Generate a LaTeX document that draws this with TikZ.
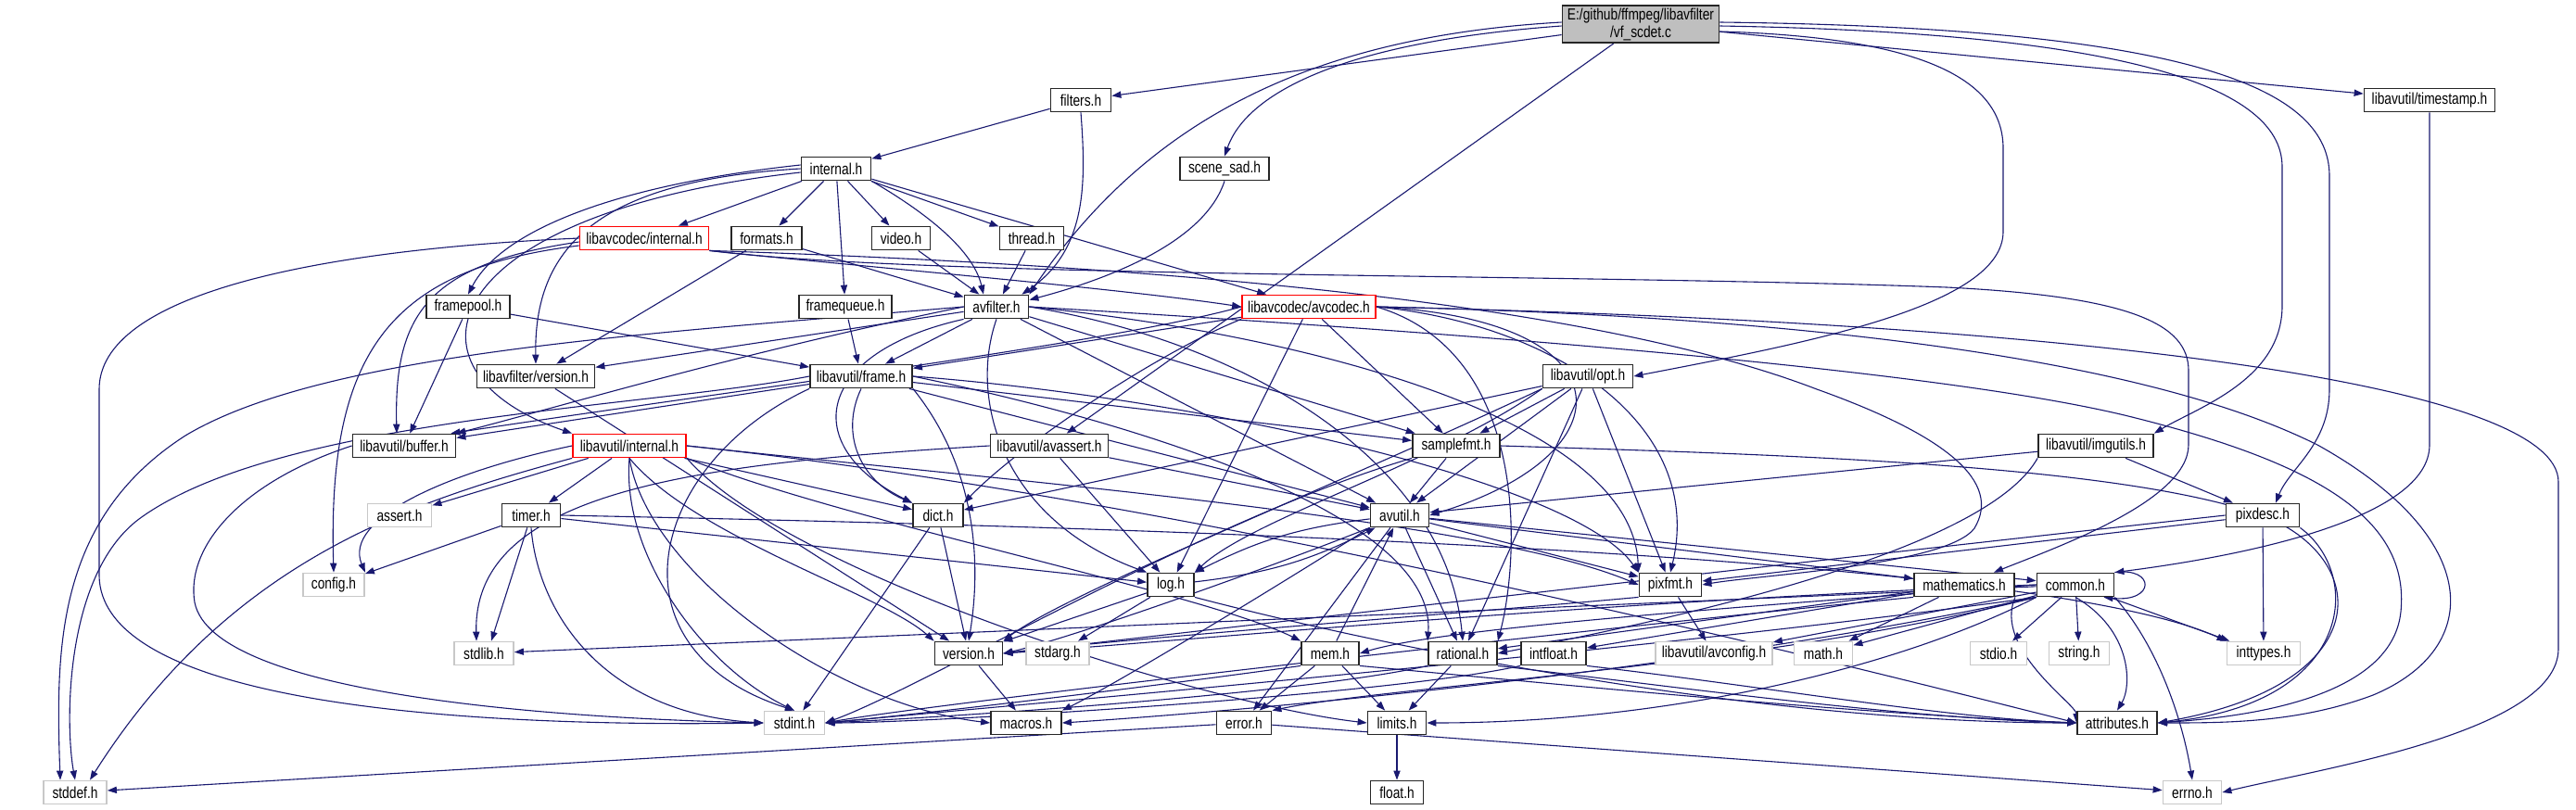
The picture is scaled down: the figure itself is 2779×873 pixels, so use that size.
\documentclass[tikz,border=0pt]{standalone}
\usepackage{fontspec}
\newfontfamily\nf[FakeStretch=0.8]{Liberation Sans}
\usetikzlibrary{arrows.meta}
\definecolor{mblue}{HTML}{191970}
\definecolor{vfgray}{HTML}{BFBFBF}
\definecolor{ggray}{HTML}{C8C8C8}
\pgfdeclarelayer{back}
\pgfdeclarelayer{edges}
\pgfsetlayers{back,edges,main}
\begin{document}
\begin{tikzpicture}[x=0.5pt,y=-0.5pt,
  nd/.style={draw=black!85, line width=0.9pt, fill=white, minimum height=12.5pt, inner sep=1pt, font=\nf\fontsize{8.6pt}{9.5pt}\selectfont},
  gnd/.style={nd, draw=ggray},
  rnd/.style={nd, draw=red},
  bw/.style={minimum width=#1*0.5pt},
  e/.style={draw=mblue, line width=0.55pt, -{Triangle[length=5pt,width=3.6pt]}}]
\begin{pgfonlayer}{back}
\fill[white] (0,0) rectangle (2779,873);
\end{pgfonlayer}
\useasboundingbox (0,0) rectangle (2779,873);
% nodes
\node[nd, fill=vfgray, bw=169, minimum height=20pt, align=center] (vfscdet) at (1770,26) {E:/github/ffmpeg/libavfilter\\/vf\_scdet.c};
\node[nd, bw=65] (filters) at (1166,108) {filters.h};
\node[nd, bw=141] (timestamp) at (2621,108) {libavutil/timestamp.h};
\node[nd, bw=96] (scenesad) at (1321,182) {scene\_sad.h};
\node[nd, bw=75] (internal) at (902,182) {internal.h};
\node[rnd, bw=139] (lcinternal) at (695,257) {libavcodec/internal.h};
\node[nd, bw=76] (formats) at (827,257) {formats.h};
\node[nd, bw=63] (video) at (972,257) {video.h};
\node[nd, bw=69] (thread) at (1113,257) {thread.h};
\node[nd, bw=90] (framepool) at (505,331) {framepool.h};
\node[nd, bw=100] (framequeue) at (912,331) {framequeue.h};
\node[nd, bw=69] (avfilter) at (1075,331) {avfilter.h};
\node[rnd, bw=144] (avcodec) at (1412,331) {libavcodec/avcodec.h};
\node[nd, bw=127] (lfversion) at (578,406) {libavfilter/version.h};
\node[nd, bw=110] (frame) at (929,406) {libavutil/frame.h};
\node[nd, bw=97] (opt) at (1713,406) {libavutil/opt.h};
\node[nd, bw=111] (buffer) at (436,481) {libavutil/buffer.h};
\node[rnd, bw=122] (luinternal) at (679,481) {libavutil/internal.h};
\node[nd, bw=127] (avassert) at (1132,481) {libavutil/avassert.h};
\node[nd, bw=94] (samplefmt) at (1571,481) {samplefmt.h};
\node[nd, bw=124] (imgutils) at (2261,481) {libavutil/imgutils.h};
\node[gnd, bw=69] (assert) at (431,556) {assert.h};
\node[nd, bw=63] (timer) at (573,556) {timer.h};
\node[nd, bw=54] (dict) at (1012,556) {dict.h};
\node[nd, bw=63] (avutil) at (1510,556) {avutil.h};
\node[nd, bw=79] (pixdesc) at (2441,556) {pixdesc.h};
\node[gnd, bw=66] (config) at (360,631) {config.h};
\node[nd, bw=50] (log) at (1263,631) {log.h};
\node[nd, bw=67] (pixfmt) at (1802,631) {pixfmt.h};
\node[nd, bw=108] (mathematics) at (2119,631) {mathematics.h};
\node[nd, bw=83] (common) at (2239,631) {common.h};
\node[gnd, bw=64] (stdlib) at (522,705) {stdlib.h};
\node[nd, bw=73] (version) at (1045,705) {version.h};
\node[gnd, bw=68] (stdarg) at (1141,705) {stdarg.h};
\node[nd, bw=62] (mem) at (1435,705) {mem.h};
\node[nd, bw=74] (rational) at (1578,705) {rational.h};
\node[nd, bw=70] (intfloat) at (1676,705) {intfloat.h};
\node[gnd, bw=126] (avconfig) at (1849,705) {libavutil/avconfig.h};
\node[gnd, bw=63] (mathh) at (1967,705) {math.h};
\node[gnd, bw=61] (stdio) at (2156,705) {stdio.h};
\node[gnd, bw=65] (string) at (2243,705) {string.h};
\node[gnd, bw=79] (inttypes) at (2442,705) {inttypes.h};
\node[gnd, bw=65] (stdint) at (857,780) {stdint.h};
\node[nd, bw=76] (macros) at (1107,780) {macros.h};
\node[nd, bw=59] (error) at (1342,780) {error.h};
\node[nd, bw=63] (limits) at (1507,780) {limits.h};
\node[nd, bw=86] (attributes) at (2284,780) {attributes.h};
\node[gnd, bw=68] (stddef) at (81,855) {stddef.h};
\node[nd, bw=57] (float) at (1507,855) {float.h};
\node[gnd, bw=63] (errno) at (2365,855) {errno.h};
\begin{pgfonlayer}{edges}
% vf_scdet.c
\draw[e] (vfscdet) -- (filters);
\draw[e] ([yshift=-1pt]vfscdet.west) .. controls (1450,45) and (1345,100) .. (scenesad.north);
\draw[e] ([yshift=1pt]vfscdet.west) .. controls (1400,40) and (1230,140) .. (avfilter.north east);
\draw[e] (vfscdet) -- (avassert);
\draw[e] (vfscdet) -- (timestamp);
\draw[e] ([yshift=-4pt]vfscdet.east) .. controls (2060,40) and (2161,80) .. (2161,160) -- (2161,250) .. controls (2161,330) and (1950,370) .. (opt.east);
\draw[e] ([yshift=-1pt]vfscdet.east) .. controls (2280,35) and (2462,90) .. (2462,180) -- (2462,330) .. controls (2462,410) and (2370,440) .. (imgutils.north east);
\draw[e] ([yshift=1pt]vfscdet.east) .. controls (2380,30) and (2513,100) .. (2513,190) -- (2513,420) .. controls (2513,480) and (2470,505) .. ([xshift=7pt]pixdesc.north);
% filters.h
\draw[e] (filters) -- (internal);
\draw[e] (filters.south) .. controls (1172,200) and (1172,270) .. ([xshift=-4pt]avfilter.north east);
% scene_sad.h
\draw[e] (scenesad.south) .. controls (1300,260) and (1200,300) .. ([yshift=-3pt]avfilter.north east);
% timestamp.h
\draw[e] (timestamp.south) -- (2621,480) .. controls (2621,560) and (2420,600) .. (common.north east);
% internal.h
\draw[e] (internal) -- (lcinternal);
\draw[e] (internal) -- (formats);
\draw[e] (internal) -- (video);
\draw[e] (internal) -- (thread);
\draw[e] (internal) -- (framequeue);
\draw[e] (internal.south east) .. controls (1000,230) and (1050,270) .. ([xshift=-7pt]avfilter.north);
\draw[e] (internal) -- (avcodec);
\draw[e] ([yshift=2pt]internal.west) .. controls (660,200) and (540,250) .. (framepool.north);
\draw[e] (internal.west) .. controls (640,195) and (576,270) .. (lfversion.north);
\draw[e] ([yshift=-2pt]internal.west) .. controls (470,230) and (420,400) .. (luinternal.north west);
% libavcodec/internal.h
\draw[e] (lcinternal.south east) .. controls (900,285) and (1200,310) .. (avcodec.west);
\draw[e] (lcinternal.west) .. controls (330,270) and (107,320) .. (107,420) -- (107,620) .. controls (107,760) and (500,785) .. (stdint.west);
\draw[e] ([yshift=-2pt]lcinternal.west) .. controls (460,285) and (425,340) .. ([xshift=-4pt]buffer.north);
\draw[e] ([yshift=-4pt]lcinternal.west) .. controls (420,290) and (353,380) .. (config.north);
\draw[e] (lcinternal.south east) .. controls (1000,300) and (1700,295) .. (2100,310) .. controls (2300,320) and (2361,350) .. (2361,400) -- (2361,480) .. controls (2361,540) and (2220,590) .. ([xshift=16pt]mathematics.north);
\draw[e] (lcinternal.south east) .. controls (1200,285) and (1700,320) .. (1960,420) .. controls (2100,470) and (2160,520) .. (2130,570) .. controls (2100,610) and (1900,620) .. (pixfmt.east);
% formats, video, thread, framepool, framequeue
\draw[e] (formats) -- (avfilter);
\draw[e] (formats) -- (lfversion);
\draw[e] (video) -- (avfilter);
\draw[e] (thread) -- (avfilter);
\draw[e] (framepool) -- (buffer);
\draw[e] (framepool) -- (frame);
\draw[e] (framequeue) -- (frame);
% avfilter.h
\draw[e] (avfilter) -- (lfversion);
\draw[e] (avfilter) -- (frame);
\draw[e] (avfilter.west) .. controls (800,380) and (600,440) .. (buffer.north east);
\draw[e] (avfilter.south west) .. controls (880,380) and (860,480) .. (dict.north west);
\draw[e] (avfilter.south) .. controls (1045,430) and (1080,560) .. (log.north west);
\draw[e] (avfilter) -- (avutil);
\draw[e] (avfilter) -- (samplefmt);
\draw[e] (avfilter.east) .. controls (1400,360) and (1760,450) .. (pixfmt.north west);
\draw[e] (avfilter.east) .. controls (1350,370) and (1560,500) .. (rational.north);
\draw[e] (avfilter.east) .. controls (1600,360) and (2100,400) .. (2300,450) .. controls (2500,500) and (2600,560) .. (2590,660) .. controls (2580,760) and (2400,775) .. (attributes.east);
\draw[e] (avfilter.west) .. controls (700,360) and (350,380) .. (200,470) .. controls (60,560) and (60,700) .. ([xshift=-8pt]stddef.north);
% avcodec.h
\draw[e] (avcodec) -- (frame);
\draw[e] (avcodec.west) .. controls (1200,370) and (800,420) .. ([xshift=-3pt]buffer.north east);
\draw[e] (avcodec.south west) .. controls (1250,380) and (1100,480) .. (dict.north east);
\draw[e] (avcodec) -- (log);
\draw[e] (avcodec) -- (samplefmt);
\draw[e] (avcodec.east) .. controls (1760,345) and (1760,490) .. (avutil.east);
\draw[e] (avcodec.east) .. controls (1680,350) and (1840,460) .. (pixfmt.north);
\draw[e] (avcodec.east) .. controls (1650,380) and (1640,600) .. (rational.north east);
\draw[e] (avcodec.east) .. controls (1900,340) and (2300,380) .. (2500,480) .. controls (2680,580) and (2680,700) .. (2560,750) .. controls (2480,780) and (2400,780) .. (attributes.east);
\draw[e] (avcodec.east) .. controls (2300,350) and (2760,420) .. (2760,520) -- (2760,700) .. controls (2760,790) and (2500,830) .. (errno.east);
% libavfilter/version.h
\draw[e] (lfversion) -- (version);
% frame.h
\draw[e] (frame) -- (buffer);
\draw[e] (frame.south) .. controls (905,470) and (930,520) .. (dict.north west);
\draw[e] (frame.west) .. controls (700,440) and (300,450) .. (150,560) .. controls (70,620) and (70,780) .. (stddef.north);
\draw[e] (frame.south west) .. controls (700,500) and (650,700) .. (stdint.north);
\draw[e] (frame) -- (avutil);
\draw[e] (frame.east) .. controls (1200,450) and (1550,550) .. (rational.north west);
\draw[e] (frame) -- (samplefmt);
\draw[e] (frame.east) .. controls (1300,430) and (1700,520) .. (pixfmt.north west);
\draw[e] (frame.south east) .. controls (1050,500) and (1060,600) .. (version.north);
% opt.h
\draw[e] (opt) -- (dict);
\draw[e] (opt) -- (avutil);
\draw[e] (opt.south west) .. controls (1550,500) and (1350,560) .. (log.north east);
\draw[e] (opt) -- (pixfmt);
\draw[e] (opt) -- (rational);
\draw[e] (opt) -- (samplefmt);
\draw[e] (opt.south west) .. controls (1450,520) and (1150,640) .. (version.north east);
% buffer.h
\draw[e] (buffer.west) .. controls (260,520) and (200,590) .. (210,650) .. controls (230,750) and (600,775) .. (stdint.west);
% libavutil/internal.h
\draw[e] (luinternal) -- (assert);
\draw[e] (luinternal) -- (timer);
\draw[e] (luinternal) -- (dict);
\draw[e] (luinternal.west) .. controls (480,510) and (370,560) .. (config.north east);
\draw[e] (luinternal.south west) .. controls (450,540) and (250,600) .. ([xshift=8pt]stddef.north);
\draw[e] (luinternal.south) .. controls (670,600) and (760,720) .. (stdint.north);
\draw[e] (luinternal.south) .. controls (750,580) and (950,640) .. (version.north west);
\draw[e] (luinternal.south) .. controls (700,620) and (900,760) .. (macros.west);
\draw[e] (luinternal.south east) .. controls (900,560) and (1300,640) .. (mem.north west);
\draw[e] (luinternal.south east) .. controls (850,620) and (1300,760) .. (limits.west);
\draw[e] (luinternal.east) .. controls (1100,520) and (1600,560) .. (pixfmt.west);
\draw[e] (luinternal.east) .. controls (1300,540) and (2000,720) .. (attributes.west);
% avassert.h
\draw[e] (avassert) -- (log);
\draw[e] (avassert) -- (avutil);
\draw[e] (avassert.west) .. controls (750,500) and (510,530) .. ([xshift=-4pt]stdlib.north);
% samplefmt.h
\draw[e] (samplefmt) -- (avutil);
\draw[e] (samplefmt.south west) .. controls (1300,560) and (1000,740) .. (stdint.east);
\draw[e] (samplefmt.east) .. controls (1900,490) and (2300,500) .. (2450,560) .. controls (2560,610) and (2560,740) .. (attributes.east);
% imgutils.h
\draw[e] (imgutils) -- (pixdesc);
\draw[e] (imgutils) -- (avutil);
\draw[e] (imgutils.south west) .. controls (2150,580) and (1900,650) .. (rational.east);
% timer.h
\draw[e] (timer) -- (config);
\draw[e] (timer) -- ([xshift=4pt]stdlib.north);
\draw[e] (timer.south) .. controls (580,660) and (650,770) .. (stdint.west);
\draw[e] (timer) -- (log);
\draw[e] (timer.east) .. controls (1300,570) and (2200,600) .. (inttypes.north west);
% dict.h
\draw[e] (dict) -- (stdint);
\draw[e] (dict) -- (version);
% avutil.h
\draw[e] (avutil) to[bend right=10] (log);
\draw[e] (log) to[bend right=10] (avutil);
\draw[e] (avutil) -- (common);
\draw[e] (avutil) -- (error);
\draw[e] (avutil) -- (rational);
\draw[e] (avutil.south west) .. controls (1350,620) and (1150,690) .. (version.east);
\draw[e] (avutil.south west) .. controls (1350,650) and (1200,740) .. (macros.north east);
\draw[e] (avutil) -- (mathematics);
\draw[e] (avutil) -- (pixfmt);
% pixdesc.h
\draw[e] (pixdesc) -- (inttypes);
\draw[e] (pixdesc.south east) .. controls (2550,620) and (2540,760) .. (attributes.east);
\draw[e] (pixdesc) -- (pixfmt);
\draw[e] (pixdesc.west) .. controls (2000,600) and (1300,680) .. (version.east);
% log.h
\draw[e] (log) -- (stdarg);
\draw[e] (log) -- (version);
\draw[e] (log.south east) .. controls (1500,700) and (1900,780) .. (attributes.west);
% pixfmt.h
\draw[e] (pixfmt) -- (avconfig);
\draw[e] (pixfmt.south west) .. controls (1600,660) and (1200,690) .. (version.east);
% mathematics.h
\draw[e] (mathematics.south west) .. controls (1700,680) and (1000,760) .. (stdint.east);
\draw[e] (mathematics) -- (mathh);
\draw[e] (mathematics.south east) .. controls (2150,700) and (2240,760) .. (attributes.west);
\draw[e] (mathematics) -- (rational);
\draw[e] (mathematics) -- (intfloat);
% common.h
\draw[e] (common.north east) .. controls ([xshift=22pt,yshift=3pt]common.north east) and ([xshift=22pt,yshift=-3pt]common.south east) .. ([xshift=-6pt]common.south east);
\draw[e] (common) -- (stdio);
\draw[e] (common) -- (string);
\draw[e] (common) -- (inttypes);
\draw[e] (common.south) .. controls (2300,680) and (2300,740) .. (attributes.north);
\draw[e] (common.south east) .. controls (2330,700) and (2355,780) .. (errno.north);
\draw[e] (common) -- (mathh);
\draw[e] (common) -- (avconfig);
\draw[e] (common) -- (stdlib);
\draw[e] (common.south west) .. controls (1800,700) and (1100,760) .. (stdint.east);
\draw[e] (common.west) .. controls (1700,650) and (1300,690) .. (version.east);
\draw[e] (common.south west) .. controls (1800,730) and (1300,770) .. (macros.east);
\draw[e] (common.west) .. controls (1800,660) and (1550,680) .. (mem.east);
\draw[e] (common.south west) .. controls (2050,720) and (1800,780) .. (limits.east);
\draw[e] (common.south west) .. controls (1900,720) and (1500,740) .. (error.north east);
% lower rows
\draw[e] (version) -- (macros);
\draw[e] (mem) -- (avutil);
\draw[e] (mem) -- (error);
\draw[e] (mem) -- (limits);
\draw[e] (mem.south west) .. controls (1250,740) and (1000,770) .. (stdint.east);
\draw[e] (mem.south east) .. controls (1700,740) and (2000,770) .. (attributes.west);
\draw[e] (rational) -- (limits);
\draw[e] (rational.south west) .. controls (1400,750) and (1000,775) .. (stdint.east);
\draw[e] (rational.south east) .. controls (1800,740) and (2050,775) .. (attributes.west);
\draw[e] (intfloat.south west) .. controls (1500,750) and (1000,780) .. (stdint.east);
\draw[e] (intfloat.south east) .. controls (1900,740) and (2100,775) .. (attributes.west);
\draw[e] (error) -- (errno);
\draw[e] (error) -- (stddef);
\draw[e] (limits) -- (float);
\end{pgfonlayer}
\end{tikzpicture}
\end{document}
